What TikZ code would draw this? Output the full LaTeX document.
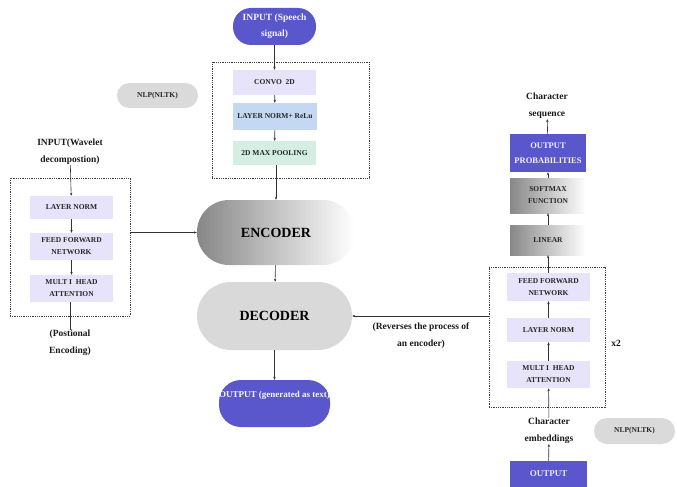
\documentclass[tikz,border=0pt]{standalone}
\usepackage{fontspec}
\setmainfont{Liberation Serif}
\usetikzlibrary{arrows.meta}
\definecolor{purp}{RGB}{90,86,204}
\definecolor{lav}{RGB}{230,227,250}
\definecolor{lblue}{RGB}{197,216,243}
\definecolor{lgreen}{RGB}{212,238,228}
\definecolor{pillgray}{RGB}{218,218,218}
\definecolor{decgray}{RGB}{217,217,217}
\definecolor{ln}{RGB}{50,50,50}
\definecolor{shadedark}{RGB}{135,135,135}
\begin{document}
\begin{tikzpicture}[x=1pt,y=-1pt,
  lbl/.style={align=center, inner sep=0pt, font=\fontsize{7.5}{12}\selectfont\bfseries, text=black!85},
  box/.style={lbl, minimum width=83pt},
  pill/.style={align=center, inner sep=0pt, rounded corners=#1},
  captxt/.style={align=center, inner sep=0pt, font=\fontsize{9.5}{17}\selectfont\bfseries, text=black!90},
  dbox/.style={draw=black!75, line width=0.6pt, dash pattern=on 1pt off 0.8pt, inner sep=0pt},
  arr/.style={draw=ln, line width=0.6pt, -{Stealth[length=3pt,width=2.4pt]}},
  plain/.style={draw=ln, line width=0.6pt},
  gshade/.style={left color=shadedark, right color=white}
]
\useasboundingbox (0,0) rectangle (677,487);

% top column
\node[pill=18pt, fill=purp, minimum width=83pt, minimum height=37pt, text=white!95!purp,
  font=\fontsize{9.5}{16}\selectfont\bfseries] (in1) at (274.5,26.5) {INPUT (Speech\\signal)};
\node[dbox, minimum width=157pt, minimum height=116pt] (tbox) at (290.5,120) {};
\node[box, fill=lav, minimum height=25pt] (conv) at (274.5,82.5) {CONVO\ \ 2D};
\node[box, fill=lblue, minimum width=84pt, minimum height=27pt] (lnr) at (275,116.5) {LAYER NORM+ ReLu};
\node[box, fill=lgreen, minimum height=24pt] (pool) at (274.5,153) {2D MAX POOLING};
\node[pill=12.5pt, fill=pillgray, minimum width=81pt, minimum height=25pt, lbl] (nlp1) at (157.5,95.5) {NLP(NLTK)};

\node[pill=32pt, gshade, minimum width=158pt, minimum height=65pt,
  font=\fontsize{14}{16}\selectfont\bfseries] (enc) at (276,232.5) {ENCODER};
\node[pill=34pt, fill=decgray, minimum width=155pt, minimum height=68pt,
  font=\fontsize{14}{16}\selectfont\bfseries] (dec) at (274.5,316) {DECODER};
\node[pill=22pt, fill=purp, minimum width=111pt, minimum height=47pt] (out1) at (274.5,403.5) {};
\node[inner sep=0pt, text=white!95!purp, font=\fontsize{9}{11}\selectfont\bfseries] (out1t) at (274.5,395) {OUTPUT (generated as text)};

% left column
\node[captxt] (wav) at (70,152) {INPUT(Wavelet\\decompostion)};
\node[dbox, minimum width=120pt, minimum height=138pt] (lbox) at (70,247) {};
\node[box, fill=lav, minimum height=23pt] (l1) at (71.5,207.5) {LAYER NORM};
\node[box, fill=lav, minimum height=27pt] (l2) at (71.5,246.5) {FEED FORWARD\\NETWORK};
\node[box, fill=lav, minimum height=27pt] (l3) at (71.5,288.5) {MULT I\ \ HEAD\\ATTENTION};
\node[captxt] (pos) at (70,343) {(Postional\\Encoding)};

% right column
\node[captxt] (cseq) at (547,106) {Character\\sequence};
\node[box, fill=purp, minimum width=76pt, minimum height=38pt, text=white!92!purp,
  font=\fontsize{8.5}{15}\selectfont\bfseries] (oprob) at (548,153) {OUTPUT\\PROBABILITIES};
\node[box, gshade, minimum width=76pt, minimum height=35pt] (soft) at (548,195.5) {SOFTMAX\\FUNCTION};
\node[box, gshade, minimum width=76pt, minimum height=30pt] (lin) at (548,240) {LINEAR};
\node[dbox, minimum width=116pt, minimum height=140pt] (rbox) at (547,337) {};
\node[box, fill=lav, minimum height=28pt] (r1) at (548.5,287) {FEED FORWARD\\NETWORK};
\node[box, fill=lav, minimum height=24pt] (r2) at (548.5,330) {LAYER NORM};
\node[box, fill=lav, minimum height=27pt] (r3) at (548.5,374.5) {MULT I\ \ HEAD\\ATTENTION};
\node[captxt] (x2) at (616,343) {x2};
\node[captxt] (cemb) at (549,431) {Character\\embeddings};
\node[pill=13pt, fill=pillgray, minimum width=81pt, minimum height=26pt, lbl] (nlp2) at (634.5,431) {NLP(NLTK)};
\node[box, fill=purp, minimum width=77pt, minimum height=26pt, text=white!85!purp,
  font=\fontsize{9}{11}\selectfont\bfseries] (outb) at (548.5,474) {OUTPUT};
\node[captxt] (rev) at (421,336) {(Reverses the process of\\an encoder)};

% connectors
\draw[arr] (in1) -- (conv);
\draw[arr] (conv) -- (lnr);
\draw[arr] (lnr) -- (pool);
\draw[arr] (pool.south -| enc.north) -- (enc.north);
\draw[arr] (enc) -- (dec);
\draw[arr] (dec) -- (out1);
\draw[arr] (wav) -- (l1);
\draw[arr] (l1) -- (l2);
\draw[arr] (l2) -- (l3);
\draw[plain] (l3.south -| pos.north) -- (pos.north);
\draw[arr] (lbox.east |- enc.west) -- (enc.west);
\draw[arr] (rbox.west |- dec.east) -- (dec.east);
\draw[arr] (outb) -- (cemb);
\draw[arr] (cemb) -- (r3);
\draw[arr] (r3) -- (r2);
\draw[arr] (r2) -- (r1);
\draw[arr] (r1.north -| lin.south) -- (lin.south);
\draw[arr] (lin) -- (soft);
\draw[arr] (soft) -- (oprob);
\draw[arr] (oprob) -- (cseq);
\end{tikzpicture}
\end{document}
